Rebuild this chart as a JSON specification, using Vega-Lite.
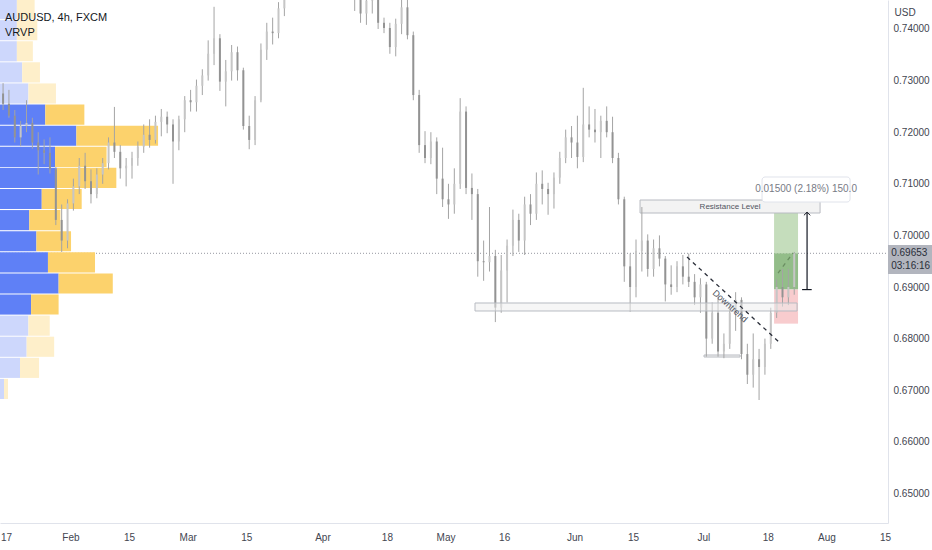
{
  "$schema": "https://vega.github.io/schema/vega-lite/v6.json",
  "width": 888,
  "height": 523,
  "autosize": "none",
  "padding": {"left": 0, "top": 0, "right": 44, "bottom": 27},
  "background": "white",
  "config": {
    "view": {"stroke": null},
    "font": "Liberation Sans, Arial, sans-serif"
  },
  "title": {
    "text": "AUDUSD, 4h, FXCM",
    "subtitle": "VRVP",
    "anchor": "start",
    "frame": "group",
    "baseline": "top",
    "offset": -38,
    "dx": 5,
    "fontSize": 11,
    "fontWeight": "normal",
    "color": "#131722",
    "subtitleFontSize": 11,
    "subtitleColor": "#131722",
    "subtitlePadding": 4
  },
  "datasets": {
    "candles": [
      {"t": -1, "o": 0.7275, "h": 0.7295, "l": 0.7243, "c": 0.7255},
      {"t": 0, "o": 0.7255, "h": 0.7282, "l": 0.7228, "c": 0.7232},
      {"t": 1, "o": 0.7232, "h": 0.7243, "l": 0.718, "c": 0.719},
      {"t": 2, "o": 0.719, "h": 0.7222, "l": 0.7173, "c": 0.7212},
      {"t": 3, "o": 0.7212, "h": 0.7262, "l": 0.72, "c": 0.7218},
      {"t": 4, "o": 0.7218, "h": 0.7228, "l": 0.7168, "c": 0.718},
      {"t": 5, "o": 0.718, "h": 0.72, "l": 0.7118, "c": 0.7165},
      {"t": 6, "o": 0.7165, "h": 0.7186, "l": 0.7138, "c": 0.716},
      {"t": 7, "o": 0.716, "h": 0.719, "l": 0.712, "c": 0.7128},
      {"t": 8, "o": 0.7128, "h": 0.7132, "l": 0.702, "c": 0.703},
      {"t": 9, "o": 0.703, "h": 0.706, "l": 0.6968, "c": 0.699},
      {"t": 10, "o": 0.699, "h": 0.707, "l": 0.6975, "c": 0.7062},
      {"t": 11, "o": 0.7062, "h": 0.711, "l": 0.7048, "c": 0.7095},
      {"t": 12, "o": 0.7095, "h": 0.715, "l": 0.708, "c": 0.7135},
      {"t": 13, "o": 0.7135, "h": 0.716, "l": 0.709, "c": 0.7105},
      {"t": 14, "o": 0.7105, "h": 0.7128, "l": 0.7062, "c": 0.708},
      {"t": 15, "o": 0.708, "h": 0.713, "l": 0.7072, "c": 0.7118},
      {"t": 16, "o": 0.7118, "h": 0.715, "l": 0.71, "c": 0.714},
      {"t": 17, "o": 0.714, "h": 0.719, "l": 0.7128, "c": 0.718},
      {"t": 18, "o": 0.718, "h": 0.7249, "l": 0.715, "c": 0.7162},
      {"t": 19, "o": 0.7162, "h": 0.7175, "l": 0.711, "c": 0.713},
      {"t": 20, "o": 0.713, "h": 0.715, "l": 0.7095, "c": 0.7135},
      {"t": 21, "o": 0.7135, "h": 0.7162, "l": 0.711, "c": 0.715},
      {"t": 22, "o": 0.715, "h": 0.7182, "l": 0.7135, "c": 0.7172},
      {"t": 23, "o": 0.7172, "h": 0.7215, "l": 0.716, "c": 0.7195},
      {"t": 24, "o": 0.7195, "h": 0.7225, "l": 0.717, "c": 0.7185},
      {"t": 25, "o": 0.7185, "h": 0.7232, "l": 0.7178, "c": 0.722},
      {"t": 26, "o": 0.722, "h": 0.7245, "l": 0.7192, "c": 0.723},
      {"t": 27, "o": 0.723, "h": 0.724, "l": 0.7198, "c": 0.7215},
      {"t": 28, "o": 0.7215, "h": 0.7225, "l": 0.71, "c": 0.7182},
      {"t": 29, "o": 0.7182, "h": 0.7232, "l": 0.7165, "c": 0.7225},
      {"t": 30, "o": 0.7225, "h": 0.727, "l": 0.72, "c": 0.7262},
      {"t": 31, "o": 0.7262, "h": 0.7282, "l": 0.724, "c": 0.7258},
      {"t": 32, "o": 0.7258, "h": 0.7302, "l": 0.724, "c": 0.729},
      {"t": 33, "o": 0.729, "h": 0.7322, "l": 0.7272, "c": 0.731},
      {"t": 34, "o": 0.731, "h": 0.7378, "l": 0.73, "c": 0.7352},
      {"t": 35, "o": 0.7352, "h": 0.7443, "l": 0.733, "c": 0.7382},
      {"t": 36, "o": 0.7382, "h": 0.739, "l": 0.728, "c": 0.7298},
      {"t": 37, "o": 0.7298, "h": 0.734, "l": 0.725, "c": 0.7318},
      {"t": 38, "o": 0.7318, "h": 0.7369, "l": 0.73, "c": 0.7355},
      {"t": 39, "o": 0.7355, "h": 0.7366, "l": 0.73, "c": 0.732},
      {"t": 40, "o": 0.732, "h": 0.7325, "l": 0.7205, "c": 0.7212},
      {"t": 41, "o": 0.7212, "h": 0.7232, "l": 0.7167, "c": 0.7185},
      {"t": 42, "o": 0.7185, "h": 0.727, "l": 0.7175, "c": 0.7262},
      {"t": 43, "o": 0.7262, "h": 0.7372, "l": 0.7258, "c": 0.736},
      {"t": 44, "o": 0.736, "h": 0.7412, "l": 0.734, "c": 0.7395},
      {"t": 45, "o": 0.7395, "h": 0.7422, "l": 0.737, "c": 0.7392},
      {"t": 46, "o": 0.7392, "h": 0.7452, "l": 0.7382, "c": 0.744},
      {"t": 47, "o": 0.744, "h": 0.75, "l": 0.7425, "c": 0.7495},
      {"t": 48, "o": 0.7495, "h": 0.752, "l": 0.747, "c": 0.7505},
      {"t": 49, "o": 0.7505, "h": 0.7535, "l": 0.748, "c": 0.751},
      {"t": 50, "o": 0.751, "h": 0.7515, "l": 0.7465, "c": 0.749},
      {"t": 51, "o": 0.749, "h": 0.7525, "l": 0.747, "c": 0.7505},
      {"t": 52, "o": 0.7505, "h": 0.754, "l": 0.749, "c": 0.7515},
      {"t": 53, "o": 0.7515, "h": 0.754, "l": 0.748, "c": 0.749},
      {"t": 54, "o": 0.749, "h": 0.752, "l": 0.747, "c": 0.7505},
      {"t": 55, "o": 0.7505, "h": 0.756, "l": 0.749, "c": 0.755},
      {"t": 56, "o": 0.755, "h": 0.7661, "l": 0.754, "c": 0.76},
      {"t": 57, "o": 0.76, "h": 0.761, "l": 0.75, "c": 0.751},
      {"t": 58, "o": 0.751, "h": 0.752, "l": 0.7468, "c": 0.748},
      {"t": 59, "o": 0.748, "h": 0.749, "l": 0.7435, "c": 0.7462},
      {"t": 60, "o": 0.7462, "h": 0.747, "l": 0.7412, "c": 0.743},
      {"t": 61, "o": 0.743, "h": 0.7465, "l": 0.7408, "c": 0.7455},
      {"t": 62, "o": 0.7455, "h": 0.748, "l": 0.743, "c": 0.747},
      {"t": 63, "o": 0.747, "h": 0.7475, "l": 0.74, "c": 0.7412},
      {"t": 64, "o": 0.7412, "h": 0.7422, "l": 0.7392, "c": 0.7402},
      {"t": 65, "o": 0.7402, "h": 0.7412, "l": 0.7352, "c": 0.7365},
      {"t": 66, "o": 0.7365, "h": 0.742, "l": 0.7347, "c": 0.741},
      {"t": 67, "o": 0.741, "h": 0.7458, "l": 0.739, "c": 0.7442},
      {"t": 68, "o": 0.7442, "h": 0.7462, "l": 0.738, "c": 0.7388},
      {"t": 69, "o": 0.7388, "h": 0.7395, "l": 0.7262, "c": 0.7272},
      {"t": 70, "o": 0.7272, "h": 0.7282, "l": 0.716, "c": 0.7175},
      {"t": 71, "o": 0.7175, "h": 0.7202, "l": 0.714, "c": 0.715},
      {"t": 72, "o": 0.715, "h": 0.72, "l": 0.7138, "c": 0.7182},
      {"t": 73, "o": 0.7182, "h": 0.719, "l": 0.708, "c": 0.711},
      {"t": 74, "o": 0.711, "h": 0.717, "l": 0.7055, "c": 0.707},
      {"t": 75, "o": 0.707, "h": 0.71, "l": 0.7032, "c": 0.706},
      {"t": 76, "o": 0.706, "h": 0.713, "l": 0.7042, "c": 0.71},
      {"t": 77, "o": 0.71, "h": 0.7266, "l": 0.709, "c": 0.724},
      {"t": 78, "o": 0.724, "h": 0.725, "l": 0.708, "c": 0.7092},
      {"t": 79, "o": 0.7092, "h": 0.712, "l": 0.703, "c": 0.708},
      {"t": 80, "o": 0.708, "h": 0.709, "l": 0.692, "c": 0.695},
      {"t": 81, "o": 0.695, "h": 0.699, "l": 0.6912, "c": 0.6948},
      {"t": 82, "o": 0.6948, "h": 0.7055, "l": 0.693, "c": 0.696},
      {"t": 83, "o": 0.696, "h": 0.6972, "l": 0.6832, "c": 0.686},
      {"t": 84, "o": 0.686, "h": 0.6962, "l": 0.685, "c": 0.6932},
      {"t": 85, "o": 0.6932, "h": 0.6992, "l": 0.687, "c": 0.698},
      {"t": 86, "o": 0.698, "h": 0.705, "l": 0.696, "c": 0.703},
      {"t": 87, "o": 0.703, "h": 0.7042, "l": 0.6968, "c": 0.699},
      {"t": 88, "o": 0.699, "h": 0.7075, "l": 0.6962, "c": 0.706},
      {"t": 89, "o": 0.706, "h": 0.708, "l": 0.702, "c": 0.7042},
      {"t": 90, "o": 0.7042, "h": 0.7122, "l": 0.703, "c": 0.71},
      {"t": 91, "o": 0.71, "h": 0.7126, "l": 0.706, "c": 0.709},
      {"t": 92, "o": 0.709, "h": 0.7102, "l": 0.704, "c": 0.708},
      {"t": 93, "o": 0.708, "h": 0.7122, "l": 0.7052, "c": 0.7112},
      {"t": 94, "o": 0.7112, "h": 0.7162, "l": 0.71, "c": 0.715},
      {"t": 95, "o": 0.715, "h": 0.7205, "l": 0.714, "c": 0.719},
      {"t": 96, "o": 0.719, "h": 0.7212, "l": 0.715, "c": 0.718},
      {"t": 97, "o": 0.718, "h": 0.7232, "l": 0.713, "c": 0.7152},
      {"t": 98, "o": 0.7152, "h": 0.7286, "l": 0.7142, "c": 0.7215},
      {"t": 99, "o": 0.7215, "h": 0.725, "l": 0.719, "c": 0.7205},
      {"t": 100, "o": 0.7205, "h": 0.7245, "l": 0.718, "c": 0.72},
      {"t": 101, "o": 0.72, "h": 0.7232, "l": 0.715, "c": 0.7222},
      {"t": 102, "o": 0.7222, "h": 0.725, "l": 0.719, "c": 0.72},
      {"t": 103, "o": 0.72, "h": 0.723, "l": 0.714, "c": 0.715},
      {"t": 104, "o": 0.715, "h": 0.716, "l": 0.706, "c": 0.707},
      {"t": 105, "o": 0.707, "h": 0.7075, "l": 0.691, "c": 0.694},
      {"t": 106, "o": 0.694, "h": 0.6965, "l": 0.6852, "c": 0.69},
      {"t": 107, "o": 0.69, "h": 0.6992, "l": 0.688, "c": 0.697},
      {"t": 108, "o": 0.697, "h": 0.7055, "l": 0.693, "c": 0.699},
      {"t": 109, "o": 0.699, "h": 0.7002, "l": 0.692, "c": 0.6935},
      {"t": 110, "o": 0.6935, "h": 0.6992, "l": 0.692, "c": 0.6975},
      {"t": 111, "o": 0.6975, "h": 0.7, "l": 0.694, "c": 0.6955},
      {"t": 112, "o": 0.6955, "h": 0.696, "l": 0.6872, "c": 0.6905},
      {"t": 113, "o": 0.6905, "h": 0.6942, "l": 0.6885, "c": 0.69},
      {"t": 114, "o": 0.69, "h": 0.695, "l": 0.689, "c": 0.694},
      {"t": 115, "o": 0.694, "h": 0.6962, "l": 0.6905, "c": 0.692},
      {"t": 116, "o": 0.692, "h": 0.6965, "l": 0.69, "c": 0.691},
      {"t": 117, "o": 0.691, "h": 0.6925, "l": 0.6865, "c": 0.688},
      {"t": 118, "o": 0.688, "h": 0.6917, "l": 0.685, "c": 0.6905},
      {"t": 119, "o": 0.6905, "h": 0.691, "l": 0.6765, "c": 0.68},
      {"t": 120, "o": 0.68, "h": 0.687, "l": 0.679, "c": 0.685},
      {"t": 121, "o": 0.685, "h": 0.688, "l": 0.6765, "c": 0.6775},
      {"t": 122, "o": 0.6775, "h": 0.681, "l": 0.6762, "c": 0.679},
      {"t": 123, "o": 0.679, "h": 0.6865, "l": 0.678, "c": 0.685},
      {"t": 124, "o": 0.685, "h": 0.689, "l": 0.6815, "c": 0.6875},
      {"t": 125, "o": 0.6875, "h": 0.688, "l": 0.676, "c": 0.677},
      {"t": 126, "o": 0.677, "h": 0.679, "l": 0.6712, "c": 0.673},
      {"t": 127, "o": 0.673, "h": 0.681, "l": 0.6705, "c": 0.676},
      {"t": 128, "o": 0.676, "h": 0.678, "l": 0.6681, "c": 0.6745},
      {"t": 129, "o": 0.6745, "h": 0.68, "l": 0.673, "c": 0.679},
      {"t": 130, "o": 0.679, "h": 0.686, "l": 0.678, "c": 0.685},
      {"t": 131, "o": 0.685, "h": 0.6915, "l": 0.684, "c": 0.69},
      {"t": 132, "o": 0.69, "h": 0.6935, "l": 0.6862, "c": 0.688},
      {"t": 133, "o": 0.688, "h": 0.6935, "l": 0.6865, "c": 0.69},
      {"t": 134, "o": 0.69, "h": 0.6968, "l": 0.6885, "c": 0.69653}
    ],
    "vrvp": [
      {"lo": 0.66829, "hi": 0.67219, "base": 0, "up": 4.5, "tot": 9, "va": false},
      {"lo": 0.67238, "hi": 0.67628, "base": 0, "up": 22.5, "tot": 44, "va": false},
      {"lo": 0.67647, "hi": 0.68037, "base": 0, "up": 30, "tot": 61, "va": false},
      {"lo": 0.68056, "hi": 0.68446, "base": 0, "up": 32, "tot": 56, "va": false},
      {"lo": 0.68465, "hi": 0.68855, "base": 0, "up": 35, "tot": 66, "va": true},
      {"lo": 0.68874, "hi": 0.69264, "base": 0, "up": 66, "tot": 127, "va": true},
      {"lo": 0.69283, "hi": 0.69673, "base": 0, "up": 54, "tot": 107, "va": true},
      {"lo": 0.69692, "hi": 0.70082, "base": 0, "up": 41, "tot": 80, "va": true},
      {"lo": 0.70101, "hi": 0.70491, "base": 0, "up": 33, "tot": 68, "va": true},
      {"lo": 0.7051, "hi": 0.709, "base": 0, "up": 47, "tot": 92, "va": true},
      {"lo": 0.70919, "hi": 0.71309, "base": 0, "up": 64, "tot": 131, "va": true},
      {"lo": 0.71328, "hi": 0.71718, "base": 0, "up": 62, "tot": 120, "va": true},
      {"lo": 0.71737, "hi": 0.72127, "base": 0, "up": 86, "tot": 178, "va": true},
      {"lo": 0.72146, "hi": 0.72536, "base": 0, "up": 51, "tot": 95, "va": true},
      {"lo": 0.72555, "hi": 0.72945, "base": 0, "up": 32, "tot": 63, "va": false},
      {"lo": 0.72964, "hi": 0.73354, "base": 0, "up": 25, "tot": 45, "va": false},
      {"lo": 0.73373, "hi": 0.73763, "base": 0, "up": 19, "tot": 37, "va": false},
      {"lo": 0.73782, "hi": 0.74172, "base": 0, "up": 19, "tot": 42, "va": false},
      {"lo": 0.74191, "hi": 0.74581, "base": 0, "up": 19, "tot": 39, "va": false}
    ]
  },
  "layer": [
    {
      "data": {"values": [{"x1": -1.524, "x2": 150.0, "p": 0.69653}]},
      "mark": {"type": "rule", "color": "#9598a1", "strokeDash": [1, 2], "strokeWidth": 1},
      "encoding": {
        "x": {"field": "x1", "type": "quantitative", "scale": {"domain": [-1.524, 150.0], "nice": false, "zero": false}, "axis": null},
        "x2": {"field": "x2"},
        "y": {"field": "p", "type": "quantitative", "scale": {"domain": [0.644264, 0.74562], "nice": false, "zero": false}, "axis": null}
      }
    },
    {
      "data": {"name": "vrvp"},
      "mark": {"type": "rect", "clip": true},
      "encoding": {
        "x": {"field": "base", "type": "quantitative", "scale": {"domain": [0, 1000], "nice": false, "zero": false}, "axis": null},
        "x2": {"field": "up"},
        "y": {"field": "lo", "type": "quantitative", "scale": {"domain": [0.644264, 0.74562], "nice": false, "zero": false}, "axis": null},
        "y2": {"field": "hi"},
        "color": {"condition": {"test": "datum.va", "value": "#5f80f6"}, "value": "#cdd7fc"}
      }
    },
    {
      "data": {"name": "vrvp"},
      "mark": {"type": "rect", "clip": true},
      "encoding": {
        "x": {"field": "up", "type": "quantitative", "scale": {"domain": [0, 1000], "nice": false, "zero": false}, "axis": null},
        "x2": {"field": "tot"},
        "y": {"field": "lo", "type": "quantitative", "scale": {"domain": [0.644264, 0.74562], "nice": false, "zero": false}, "axis": null},
        "y2": {"field": "hi"},
        "color": {"condition": {"test": "datum.va", "value": "#fcd26c"}, "value": "#feefca"}
      }
    },
    {
      "data": {"values": [
        {"x1": 130.56, "x2": 134.65, "p1": 0.69653, "p2": 0.7045, "zone": "target"},
        {"x1": 130.56, "x2": 134.65, "p1": 0.6895, "p2": 0.69653, "zone": "open"},
        {"x1": 130.56, "x2": 134.65, "p1": 0.6829, "p2": 0.6895, "zone": "stop"}
      ]},
      "mark": {"type": "rect"},
      "encoding": {
        "x": {"field": "x1", "type": "quantitative", "scale": {"domain": [-1.524, 150.0], "nice": false, "zero": false}, "axis": null},
        "x2": {"field": "x2"},
        "y": {"field": "p1", "type": "quantitative", "scale": {"domain": [0.644264, 0.74562], "nice": false, "zero": false}, "axis": null},
        "y2": {"field": "p2"},
        "color": {"field": "zone", "type": "nominal", "scale": {"domain": ["target", "open", "stop"], "range": ["#c5ddbc", "#93bd89", "#f8ccce"]}, "legend": null}
      }
    },
    {
      "data": {"values": [
        {"x1": 107.69, "x2": 138.41, "p1": 0.70434, "p2": 0.70686},
        {"x1": 118.61, "x2": 124.76, "p1": 0.67643, "p2": 0.67682}
      ]},
      "mark": {"type": "rect", "fill": "#f3f3f3", "stroke": "#b8bbc2", "strokeWidth": 1},
      "encoding": {
        "x": {"field": "x1", "type": "quantitative", "scale": {"domain": [-1.524, 150.0], "nice": false, "zero": false}, "axis": null},
        "x2": {"field": "x2"},
        "y": {"field": "p1", "type": "quantitative", "scale": {"domain": [0.644264, 0.74562], "nice": false, "zero": false}, "axis": null},
        "y2": {"field": "p2"}
      }
    },
    {
      "data": {"name": "candles"},
      "mark": {"type": "rule", "color": "#a4a4a4", "strokeWidth": 1, "clip": true},
      "encoding": {
        "x": {
          "field": "t",
          "type": "quantitative",
          "scale": {"domain": [-1.524, 150.0], "nice": false, "zero": false},
          "axis": {
            "values": [-0.5, 10.5, 20.5, 30.5, 40.5, 53.5, 64.5, 74.5, 84.5, 96.5, 106.5, 118.5, 129.5, 139.5, 149.5],
            "labelExpr": "['17','Feb','15','Mar','15','Apr','18','May','16','Jun','15','Jul','18','Aug','15'][indexof([-0.5,10.5,20.5,30.5,40.5,53.5,64.5,74.5,84.5,96.5,106.5,118.5,129.5,139.5,149.5], datum.value)]",
            "title": null,
            "grid": false,
            "ticks": false,
            "domainColor": "#e0e3eb",
            "labelColor": "#434651",
            "labelFontSize": 10,
            "labelPadding": 9,
            "labelFlush": false,
            "labelOverlap": false
          }
        },
        "y": {
          "field": "l",
          "type": "quantitative",
          "scale": {"domain": [0.644264, 0.74562], "nice": false, "zero": false},
          "axis": {
            "orient": "right",
            "values": [0.65, 0.66, 0.67, 0.68, 0.69, 0.7, 0.71, 0.72, 0.73, 0.74],
            "format": ".5f",
            "title": "USD",
            "titleAngle": 0,
            "titleX": 6,
            "titleY": 12,
            "titleAlign": "left",
            "titleBaseline": "middle",
            "titleFontSize": 10,
            "titleFontWeight": "normal",
            "titleColor": "#434651",
            "grid": false,
            "ticks": false,
            "domainColor": "#e0e3eb",
            "labelColor": "#434651",
            "labelFontSize": 10,
            "labelPadding": 5,
            "labelFlush": false
          }
        },
        "y2": {"field": "h"}
      }
    },
    {
      "data": {"name": "candles"},
      "mark": {"type": "rule", "strokeWidth": 2, "clip": true},
      "encoding": {
        "x": {"field": "t", "type": "quantitative", "scale": {"domain": [-1.524, 150.0], "nice": false, "zero": false}, "axis": null},
        "y": {"field": "o", "type": "quantitative", "scale": {"domain": [0.644264, 0.74562], "nice": false, "zero": false}, "axis": null},
        "y2": {"field": "c"},
        "color": {"condition": {"test": "datum.c >= datum.o", "value": "#c6c6c6"}, "value": "#939393"}
      }
    },
    {
      "data": {"values": [{"x1": 79.53, "x2": 134.48, "p1": 0.68535, "p2": 0.6869}]},
      "mark": {"type": "rect", "fill": "#eeeeee", "fillOpacity": 0.5, "stroke": "#b8bbc2", "strokeWidth": 1},
      "encoding": {
        "x": {"field": "x1", "type": "quantitative", "scale": {"domain": [-1.524, 150.0], "nice": false, "zero": false}, "axis": null},
        "x2": {"field": "x2"},
        "y": {"field": "p1", "type": "quantitative", "scale": {"domain": [0.644264, 0.74562], "nice": false, "zero": false}, "axis": null},
        "y2": {"field": "p2"}
      }
    },
    {
      "data": {"values": [
        {"x1": 115.71, "x2": 131.58, "p1": 0.69581, "p2": 0.67915, "kind": "trend"},
        {"x1": 131.24, "x2": 133.8, "p1": 0.69271, "p2": 0.69659, "kind": "path"}
      ]},
      "mark": {"type": "rule", "strokeDash": [4, 4], "strokeWidth": 1.3},
      "encoding": {
        "x": {"field": "x1", "type": "quantitative", "scale": {"domain": [-1.524, 150.0], "nice": false, "zero": false}, "axis": null},
        "x2": {"field": "x2"},
        "y": {"field": "p1", "type": "quantitative", "scale": {"domain": [0.644264, 0.74562], "nice": false, "zero": false}, "axis": null},
        "y2": {"field": "p2"},
        "color": {"field": "kind", "type": "nominal", "scale": {"domain": ["trend", "path"], "range": ["#2a2e39", "#6b8f62"]}, "legend": null}
      }
    },
    {
      "data": {"values": [{"x": 123.05, "p": 0.68632, "txt": "Downtrend"}]},
      "mark": {"type": "text", "angle": 42, "fontSize": 9, "color": "#50535e", "align": "center", "baseline": "middle"},
      "encoding": {
        "x": {"field": "x", "type": "quantitative", "scale": {"domain": [-1.524, 150.0], "nice": false, "zero": false}, "axis": null},
        "y": {"field": "p", "type": "quantitative", "scale": {"domain": [0.644264, 0.74562], "nice": false, "zero": false}, "axis": null},
        "text": {"field": "txt"}
      }
    },
    {
      "data": {"values": [{"x": 123.05, "p": 0.7056, "txt": "Resistance Level"}]},
      "mark": {"type": "text", "fontSize": 8, "color": "#50535e", "align": "center", "baseline": "middle"},
      "encoding": {
        "x": {"field": "x", "type": "quantitative", "scale": {"domain": [-1.524, 150.0], "nice": false, "zero": false}, "axis": null},
        "y": {"field": "p", "type": "quantitative", "scale": {"domain": [0.644264, 0.74562], "nice": false, "zero": false}, "axis": null},
        "text": {"field": "txt"}
      }
    },
    {
      "data": {"values": [
        {"x1": 136.19, "x2": 136.19, "p1": 0.6895, "p2": 0.7045},
        {"x1": 135.34, "x2": 136.98, "p1": 0.6895, "p2": 0.6895}
      ]},
      "mark": {"type": "rule", "color": "#131722", "strokeWidth": 1.2},
      "encoding": {
        "x": {"field": "x1", "type": "quantitative", "scale": {"domain": [-1.524, 150.0], "nice": false, "zero": false}, "axis": null},
        "x2": {"field": "x2"},
        "y": {"field": "p1", "type": "quantitative", "scale": {"domain": [0.644264, 0.74562], "nice": false, "zero": false}, "axis": null},
        "y2": {"field": "p2"}
      }
    },
    {
      "data": {"values": [{"x": 136.19, "p": 0.7045}]},
      "mark": {"type": "point", "shape": "M-1,1L0,0L1,1", "filled": false, "size": 40, "stroke": "#131722", "strokeWidth": 1, "opacity": 1},
      "encoding": {
        "x": {"field": "x", "type": "quantitative", "scale": {"domain": [-1.524, 150.0], "nice": false, "zero": false}, "axis": null},
        "y": {"field": "p", "type": "quantitative", "scale": {"domain": [0.644264, 0.74562], "nice": false, "zero": false}, "axis": null}
      }
    },
    {
      "data": {"values": [{"x1": 128.51, "x2": 143.53, "p1": 0.70647, "p2": 0.71132}]},
      "mark": {"type": "rect", "fill": "white", "stroke": "#e0e3eb", "strokeWidth": 1, "cornerRadius": 3},
      "encoding": {
        "x": {"field": "x1", "type": "quantitative", "scale": {"domain": [-1.524, 150.0], "nice": false, "zero": false}, "axis": null},
        "x2": {"field": "x2"},
        "y": {"field": "p1", "type": "quantitative", "scale": {"domain": [0.644264, 0.74562], "nice": false, "zero": false}, "axis": null},
        "y2": {"field": "p2"}
      }
    },
    {
      "data": {"values": [{"x": 136.02, "p": 0.7089, "txt": "0.01500 (2.18%) 150.0"}]},
      "mark": {"type": "text", "fontSize": 10, "color": "#787b86", "align": "center", "baseline": "middle"},
      "encoding": {
        "x": {"field": "x", "type": "quantitative", "scale": {"domain": [-1.524, 150.0], "nice": false, "zero": false}, "axis": null},
        "y": {"field": "p", "type": "quantitative", "scale": {"domain": [0.644264, 0.74562], "nice": false, "zero": false}, "axis": null},
        "text": {"field": "txt"}
      }
    },
    {
      "data": {"values": [{"x1": 150.0, "x2": 157.6, "p1": 0.69252, "p2": 0.69814}]},
      "mark": {"type": "rect", "fill": "#b2b5be"},
      "encoding": {
        "x": {"field": "x1", "type": "quantitative", "scale": {"domain": [-1.524, 150.0], "nice": false, "zero": false}, "axis": null},
        "x2": {"field": "x2"},
        "y": {"field": "p1", "type": "quantitative", "scale": {"domain": [0.644264, 0.74562], "nice": false, "zero": false}, "axis": null},
        "y2": {"field": "p2"}
      }
    },
    {
      "data": {"values": [{"x": 150.55, "p": 0.69659, "txt": "0.69653"}, {"x": 150.55, "p": 0.69407, "txt": "03:16:16"}]},
      "mark": {"type": "text", "fontSize": 10, "color": "#2a2e39", "align": "left", "baseline": "middle"},
      "encoding": {
        "x": {"field": "x", "type": "quantitative", "scale": {"domain": [-1.524, 150.0], "nice": false, "zero": false}, "axis": null},
        "y": {"field": "p", "type": "quantitative", "scale": {"domain": [0.644264, 0.74562], "nice": false, "zero": false}, "axis": null},
        "text": {"field": "txt"}
      }
    }
  ],
  "resolve": {"scale": {"x": "independent", "y": "independent", "color": "independent"}}
}
